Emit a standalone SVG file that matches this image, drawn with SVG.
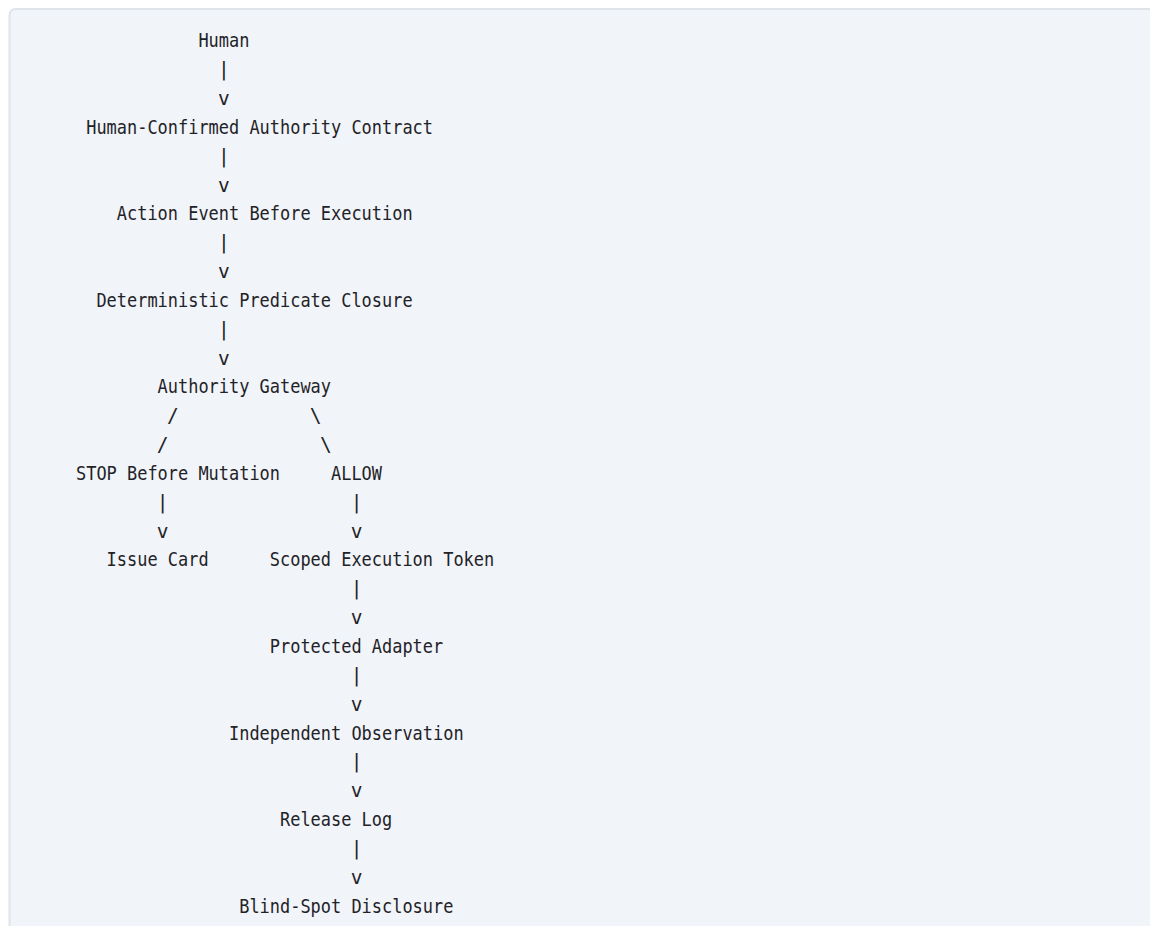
<svg xmlns="http://www.w3.org/2000/svg" width="1150" height="926" viewBox="0 0 1150 926">
<style>
text{font-family:"DejaVu Sans Mono","Liberation Mono",monospace;font-size:19.5px;fill:#1f2328}
.c{text-anchor:middle}
</style>
<rect x="0" y="0" width="1150" height="926" fill="#ffffff"/>
<rect x="9.5" y="9" width="1200" height="1000" rx="6" fill="#f1f4f8" stroke="#dfe4eb" stroke-width="2"/>
<g id="connectors">
<text class="c" x="223.9" y="76.1">|</text>
<text class="c" x="223.9" y="105.0">v</text>
<text class="c" x="223.9" y="162.7">|</text>
<text class="c" x="223.9" y="191.5">v</text>
<text class="c" x="223.9" y="249.2">|</text>
<text class="c" x="223.9" y="278.0">v</text>
<text class="c" x="223.9" y="335.7">|</text>
<text class="c" x="223.9" y="364.5">v</text>
<text class="c" x="172.9" y="422.2">/</text>
<text class="c" x="315.7" y="422.2">\</text>
<text class="c" x="162.7" y="451.1">/</text>
<text class="c" x="325.9" y="451.1">\</text>
<text class="c" x="162.7" y="508.7">|</text>
<text class="c" x="356.5" y="508.7">|</text>
<text class="c" x="162.7" y="537.6">v</text>
<text class="c" x="356.5" y="537.6">v</text>
<text class="c" x="356.5" y="595.3">|</text>
<text class="c" x="356.5" y="624.1">v</text>
<text class="c" x="356.5" y="681.8">|</text>
<text class="c" x="356.5" y="710.6">v</text>
<text class="c" x="356.5" y="768.3">|</text>
<text class="c" x="356.5" y="797.1">v</text>
<text class="c" x="356.5" y="854.8">|</text>
<text class="c" x="356.5" y="883.7">v</text>
</g>
<g id="human"><text x="198.4" y="47.3" textLength="51" lengthAdjust="spacingAndGlyphs">Human</text></g>
<g id="contract"><text x="86.2" y="133.8" textLength="346.8" lengthAdjust="spacingAndGlyphs">Human-Confirmed Authority Contract</text></g>
<g id="action-event"><text x="116.8" y="220.3" textLength="295.8" lengthAdjust="spacingAndGlyphs">Action Event Before Execution</text></g>
<g id="predicate"><text x="96.4" y="306.9" textLength="316.2" lengthAdjust="spacingAndGlyphs">Deterministic Predicate Closure</text></g>
<g id="gateway"><text x="157.6" y="393.4" textLength="173.4" lengthAdjust="spacingAndGlyphs">Authority Gateway</text></g>
<g id="stop"><text x="76" y="479.9" textLength="204" lengthAdjust="spacingAndGlyphs">STOP Before Mutation</text></g>
<g id="allow"><text x="331" y="479.9" textLength="51" lengthAdjust="spacingAndGlyphs">ALLOW</text></g>
<g id="issue-card"><text x="106.6" y="566.4" textLength="102" lengthAdjust="spacingAndGlyphs">Issue Card</text></g>
<g id="token"><text x="269.8" y="566.4" textLength="224.4" lengthAdjust="spacingAndGlyphs">Scoped Execution Token</text></g>
<g id="adapter"><text x="269.8" y="652.9" textLength="173.4" lengthAdjust="spacingAndGlyphs">Protected Adapter</text></g>
<g id="observation"><text x="229" y="739.5" textLength="234.6" lengthAdjust="spacingAndGlyphs">Independent Observation</text></g>
<g id="release-log"><text x="280" y="826.0" textLength="112.2" lengthAdjust="spacingAndGlyphs">Release Log</text></g>
<g id="disclosure"><text x="239.2" y="912.5" textLength="214.2" lengthAdjust="spacingAndGlyphs">Blind-Spot Disclosure</text></g>
</svg>
